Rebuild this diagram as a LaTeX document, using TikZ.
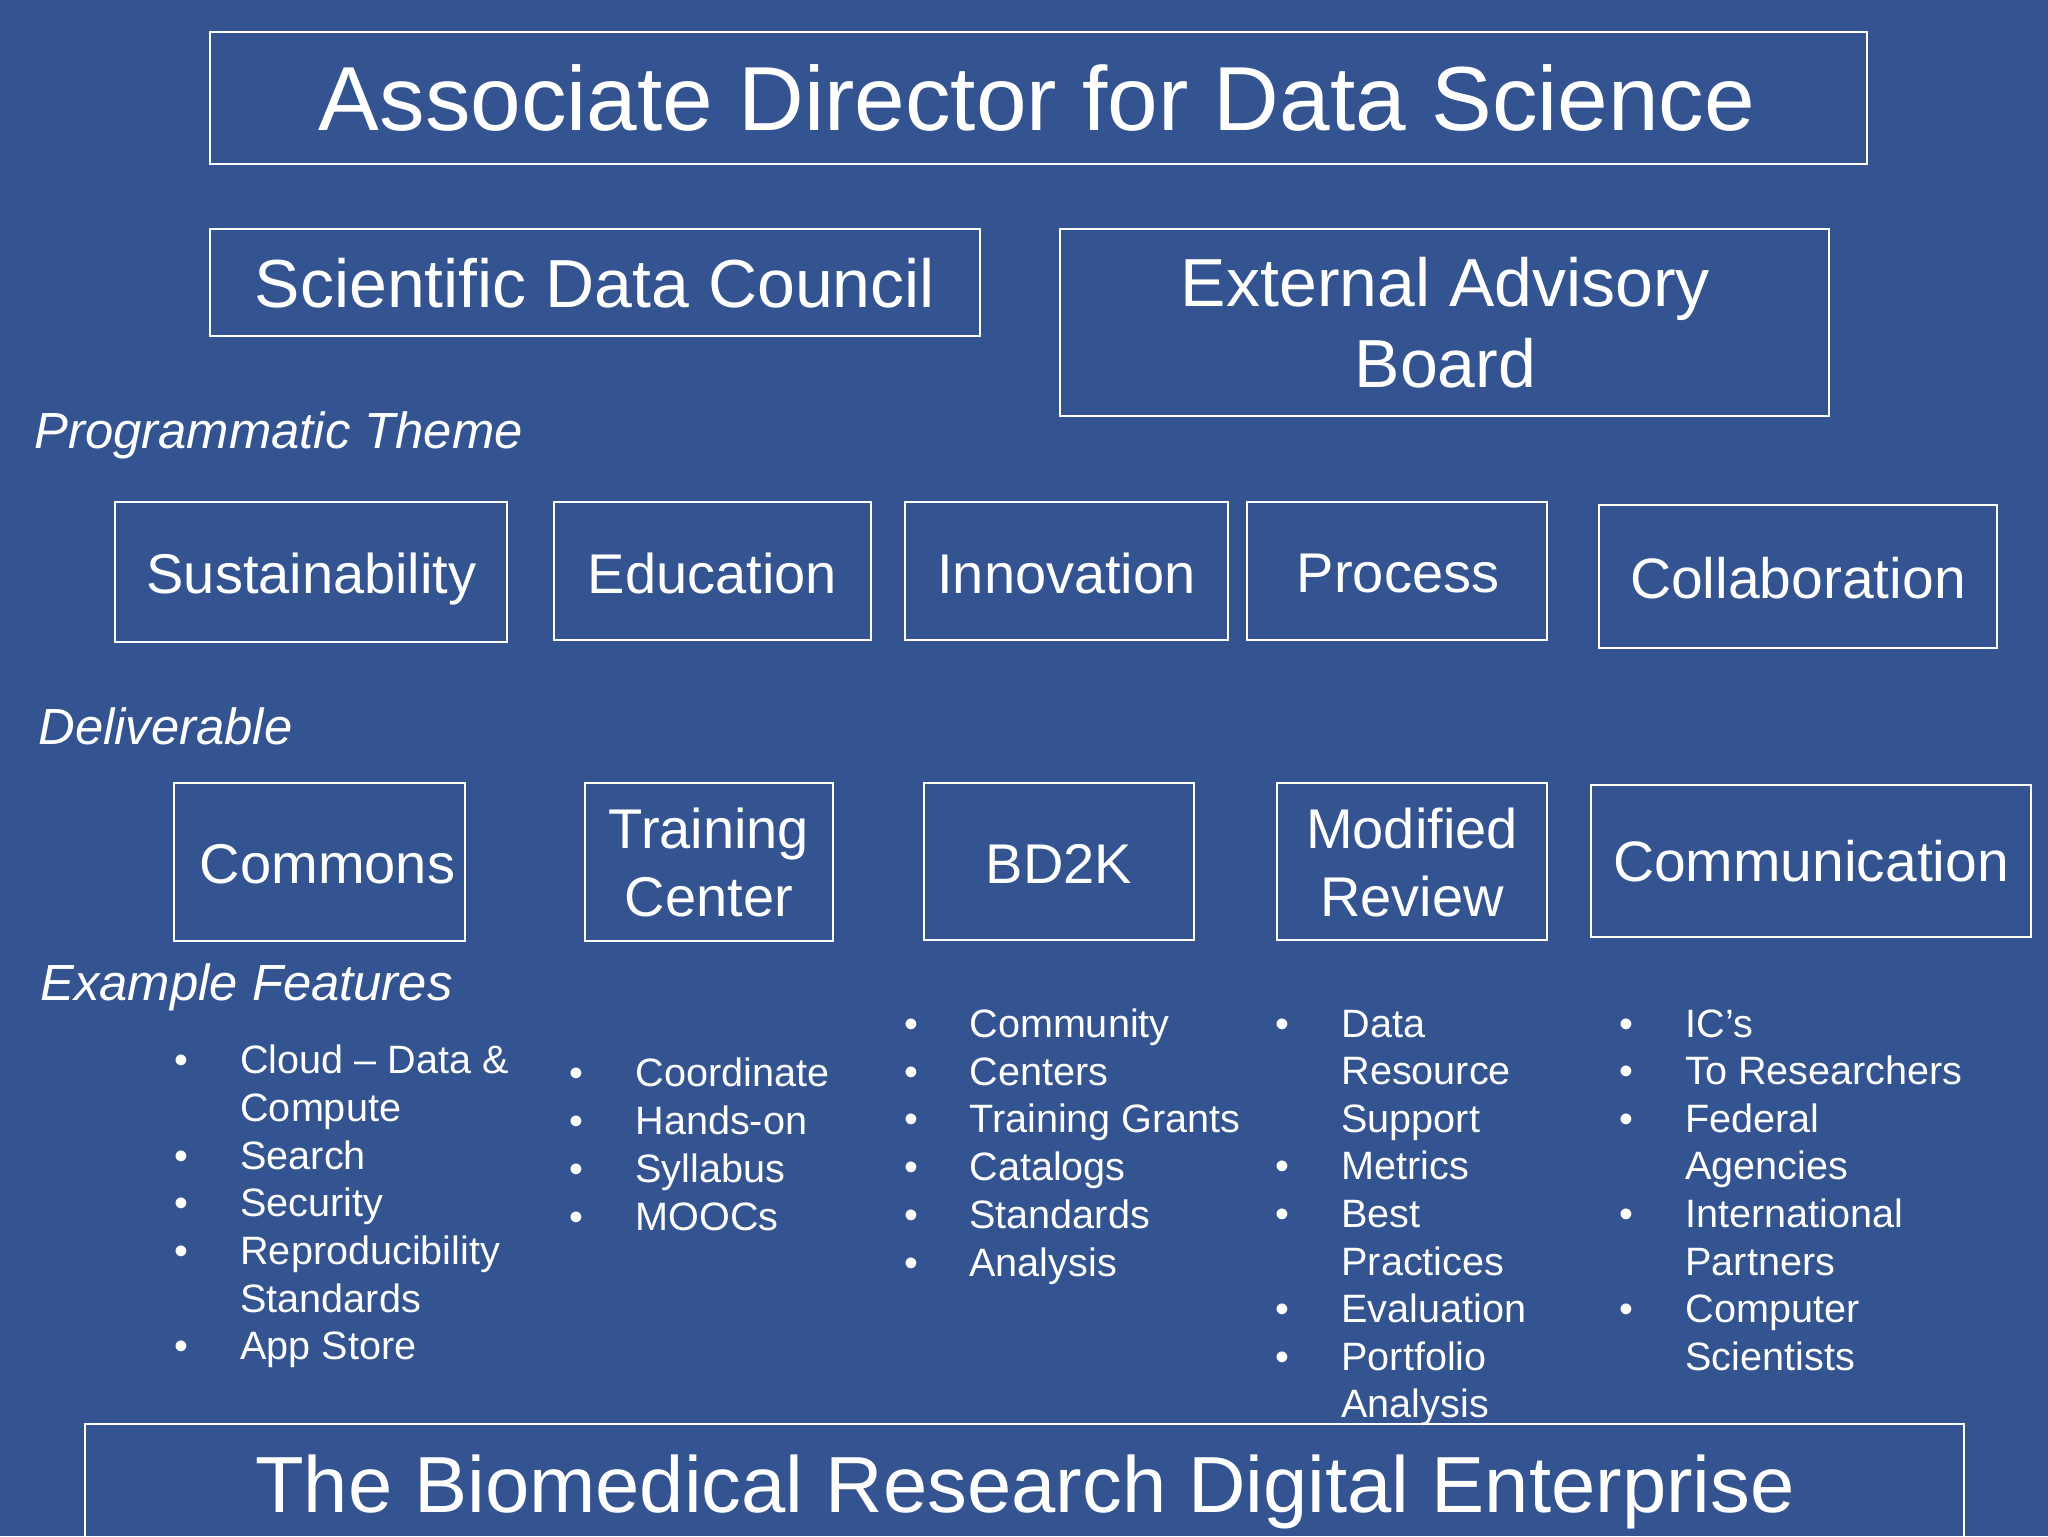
\documentclass[tikz,border=0pt]{standalone}
\usepackage{fontspec}
\setmainfont{Liberation Sans}
\definecolor{bgblue}{RGB}{52,83,145}
\tikzset{
  box/.style={draw=white, line width=1.3pt, rectangle, inner sep=0pt},
  txt/.style={text=white, inner sep=0pt, anchor=base},
  ltxt/.style={text=white, inner sep=0pt, anchor=base west},
  ftitle/.style={font=\fontsize{45.5}{54}\selectfont},
  fbig/.style={font=\fontsize{34}{40}\selectfont},
  fbox/.style={font=\fontsize{28}{34}\selectfont},
  fboxs/.style={font=\fontsize{28.5}{34}\selectfont},
  fital/.style={font=\fontsize{25.4}{30}\selectfont\itshape},
  fbottom/.style={font=\fontsize{39.8}{48}\selectfont},
  itemtxt/.style={ltxt, font=\fontsize{19.8}{23.8}\selectfont},
  bul/.style={txt, font=\fontsize{19.8}{23.8}\selectfont},
}
\newcommand\itm[5]{%
  \node[bul] (#1b) at (#2,#4) {\textbullet};
  \node[itemtxt] (#1) at (#3,#4) {#5};}
\newcommand\cnt[4]{\node[itemtxt] (#1) at (#2,#3) {#4};}
\begin{document}
\begin{tikzpicture}[x=0.5pt,y=-0.5pt]
\useasboundingbox (0,0) rectangle (2048,1536);
\clip (0,0) rectangle (2048,1536);
\fill[bgblue] (0,0) rectangle (2048,1536);

% top boxes
\node[box, minimum width=828.5pt, minimum height=66pt] (title) at (1038.5,98) {};
\node[txt, ftitle] (titletxt) at (1037,131) {Associate Director for Data Science};

\node[box, minimum width=385pt, minimum height=53.5pt] (sdc) at (595,282.5) {};
\node[txt, fbig] (sdctxt) at (595,307) {Scientific Data Council};

\node[box, minimum width=384.5pt, minimum height=93.5pt] (eab) at (1444.5,322.5) {};
\node[txt, fbig] (eabtxta) at (1445.5,306) {External Advisory};
\node[txt, fbig] (eabtxtb) at (1445.5,387.5) {Board};

% labels
\node[ltxt, fital] (lbltheme) at (34,448) {Programmatic Theme};
\node[ltxt, fital] (lbldeliv) at (38,744) {Deliverable};
\node[ltxt, fital] (lblfeat) at (40,1000) {Example Features};

% theme row
\node[box, minimum width=196pt, minimum height=70pt] (sus) at (311,572) {};
\node[txt, fbox] (sustxt) at (311.5,593) {Sustainability};
\node[box, minimum width=158.5pt, minimum height=69pt] (edu) at (712.5,571) {};
\node[txt, fbox] (edutxt) at (712.5,593) {Education};
\node[box, minimum width=161.5pt, minimum height=69pt] (inn) at (1066.5,571) {};
\node[txt, fbox] (inntxt) at (1066.5,593) {Innovation};
\node[box, minimum width=150pt, minimum height=69pt] (pro) at (1397,571) {};
\node[txt, fbox] (protxt) at (1398,592) {Process};
\node[box, minimum width=199pt, minimum height=71.5pt] (col) at (1798,576.5) {};
\node[txt, fboxs] (coltxt) at (1798,598) {Collaboration};

% deliverable row
\node[box, minimum width=145.5pt, minimum height=79pt] (cmn) at (319.5,862) {};
\node[txt, fbox] (cmntxt) at (327.5,883) {Commons};
\node[box, minimum width=124pt, minimum height=79pt] (trc) at (709,862) {};
\node[txt, fbox] (trctxta) at (709,848) {Training};
\node[txt, fbox] (trctxtb) at (709,916) {Center};
\node[box, minimum width=135pt, minimum height=78.5pt] (bdk) at (1059,861.5) {};
\node[txt, fbox] (bdktxt) at (1059,883) {BD2K};
\node[box, minimum width=135pt, minimum height=78.5pt] (mod) at (1412,861.5) {};
\node[txt, fbox] (modtxta) at (1412,848) {Modified};
\node[txt, fbox] (modtxtb) at (1412,916) {Review};
\node[box, minimum width=220pt, minimum height=76pt] (comm) at (1811,861) {};
\node[txt, fboxs] (commtxt) at (1811,881) {Communication};

% column 1
\itm{ca}{181}{240}{1073}{Cloud – Data \&}
\cnt{cb}{240}{1121}{Compute}
\itm{cc}{181}{240}{1169}{Search}
\itm{cd}{181}{240}{1216}{Security}
\itm{ce}{181}{240}{1264}{Reproducibility}
\cnt{cf}{240}{1312}{Standards}
\itm{cg}{181}{240}{1359}{App Store}

% column 2
\itm{da}{576}{635}{1086}{Coordinate}
\itm{db}{576}{635}{1134}{Hands-on}
\itm{dc}{576}{635}{1182}{Syllabus}
\itm{dd}{576}{635}{1230}{MOOCs}

% column 3
\itm{ea}{911}{969}{1037}{Community}
\itm{eb}{911}{969}{1085}{Centers}
\itm{ec}{911}{969}{1132}{Training Grants}
\itm{ed}{911}{969}{1180}{Catalogs}
\itm{ee}{911}{969}{1228}{Standards}
\itm{ef}{911}{969}{1276}{Analysis}

% column 4
\itm{fa}{1282}{1341}{1037}{Data}
\cnt{fb}{1341}{1084.6}{Resource}
\cnt{fc}{1341}{1132.2}{Support}
\itm{fd}{1282}{1341}{1179.8}{Metrics}
\itm{fe}{1282}{1341}{1227.4}{Best}
\cnt{ff}{1341}{1275}{Practices}
\itm{fg}{1282}{1341}{1322.6}{Evaluation}
\itm{fh}{1282}{1341}{1370.2}{Portfolio}
\cnt{fi}{1341}{1417.8}{Analysis}

% column 5
\itm{ga}{1626}{1685}{1037}{IC’s}
\itm{gb}{1626}{1685}{1084.6}{To Researchers}
\itm{gc}{1626}{1685}{1132.2}{Federal}
\cnt{gd}{1685}{1179.8}{Agencies}
\itm{ge}{1626}{1685}{1227.4}{International}
\cnt{gf}{1685}{1275}{Partners}
\itm{gg}{1626}{1685}{1322.6}{Computer}
\cnt{gh}{1685}{1370.2}{Scientists}

% bottom box
\node[box, minimum width=939.5pt, minimum height=80pt] (bre) at (1024.5,1504) {};
\node[txt, fbottom] (bretxt) at (1025,1512) {The Biomedical Research Digital Enterprise};
\end{tikzpicture}
\end{document}
